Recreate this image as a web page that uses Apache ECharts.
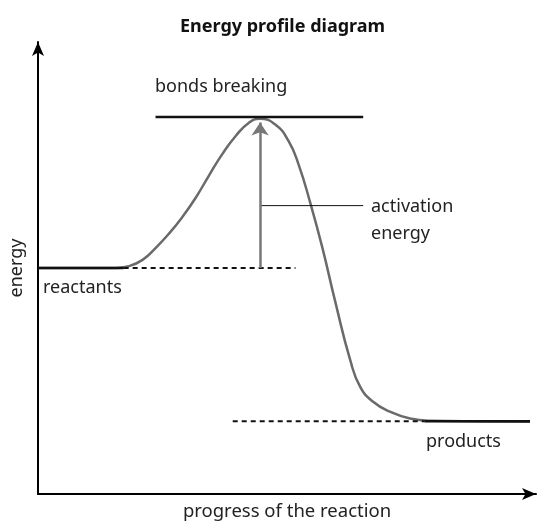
<!DOCTYPE html>
<html>
<head>
<meta charset="utf-8">
<script src="https://cdn.jsdelivr.net/npm/echarts@6/dist/echarts.min.js"></script>
<style>
  html, body { margin: 0; padding: 0; background: #fff; }
  #chart { width: 539px; height: 526px; }
</style>
</head>
<body>
<div id="chart"></div>
<script>
// progress (0-100) and energy (0-100), arbitrary units
const curveProgress = [0, 15.6, 18.2, 21.0, 23.6, 26.3, 29.0, 31.7, 34.3, 37.0, 39.7, 42.3, 44.5, 47.7, 50.3, 52.3, 54.7, 57.1, 59.7, 62.7, 64.7, 67.3, 70.7, 74.7, 78.8, 98.8];
const curveEnergy   = [50, 50, 50.4, 51.8, 54.4, 57.6, 61.3, 65.6, 70.4, 75.2, 79.2, 82.1, 83.0, 81.7, 78.1, 73.0, 64.3, 54.5, 42.5, 29.6, 23.7, 20.4, 18.2, 16.7, 16.2, 16.0];

const reactantEnergy = 50;
const productEnergy = 16.1;
const peakEnergy = 83.4;
const peakProgress = 44.6;

const reactantSolid = [0, 17.2];
const reactantDash = [17.2, 51.7];
const productDash = [39.1, 77.6];
const productSolid = [77.6, 98.8];
const bondsLine = [23.6, 65.3];
const activationPointer = { y: 63.8, from: 44.8, to: 65.3 };

const chart = echarts.init(document.getElementById('chart'));
const font = '"Noto Sans", sans-serif';

function seg(xs, y) {
    return [[xs[0], y], [xs[1], y]];
}

function flatLine(name, data, color, width, type) {
    return {
        name: name,
        type: 'line',
        data: data,
        symbol: 'none',
        silent: true,
        lineStyle: { color: color, width: width, type: type || 'solid' },
        z: 3
    };
}

const option = {
    animation: false,
    title: {
        text: 'Energy profile diagram',
        left: 175,
        top: 13,
        textStyle: { fontFamily: font, fontSize: 18, fontWeight: 'bold', color: '#111' }
    },
    grid: { left: 37, right: 3, top: 42, bottom: 28 },
    xAxis: {
        type: 'value', min: 0, max: 100,
        name: 'progress of the reaction',
        nameLocation: 'middle', nameGap: 8,
        nameTextStyle: { fontFamily: font, fontSize: 18.5, color: '#222' },
        axisLine: { show: true, lineStyle: { color: '#000', width: 2 }, symbol: ['none', 'arrow'], symbolSize: [9, 14] },
        axisTick: { show: false }, axisLabel: { show: false }, splitLine: { show: false }
    },
    yAxis: {
        type: 'value', min: 0, max: 100,
        name: 'energy',
        nameLocation: 'middle', nameGap: 12,
        nameTextStyle: { fontFamily: font, fontSize: 18, color: '#222' },
        axisLine: { show: true, lineStyle: { color: '#000', width: 2 }, symbol: ['none', 'arrow'], symbolSize: [9, 14] },
        axisTick: { show: false }, axisLabel: { show: false }, splitLine: { show: false }
    },
    series: [
        {
            name: 'profile',
            type: 'line',
            data: curveProgress.map((x, i) => [x, curveEnergy[i]]),
            smooth: 0.5,
            symbol: 'none',
            lineStyle: { color: '#6a6a6a', width: 2.5 },
            z: 2
        },
        flatLine('reactants', seg(reactantSolid, reactantEnergy), '#111', 2.5),
        flatLine('reactants level', seg(reactantDash, reactantEnergy), '#111', 2, [5, 4]),
        flatLine('products level', seg(productDash, productEnergy), '#111', 2, [5, 4]),
        flatLine('products', seg(productSolid, productEnergy), '#111', 2.5),
        flatLine('bonds breaking', seg(bondsLine, peakEnergy), '#111', 2.5),
        flatLine('pointer', seg([activationPointer.from, activationPointer.to], activationPointer.y), '#111', 1),
        {
            name: 'activation',
            type: 'lines',
            coordinateSystem: 'cartesian2d',
            silent: true,
            symbol: ['none', 'arrow'],
            symbolSize: 13,
            lineStyle: { color: '#777', width: 2.5, opacity: 1 },
            data: [{ coords: [[peakProgress, reactantEnergy], [peakProgress, peakEnergy - 1.2]] }],
            z: 4
        }
    ],
    graphic: [
        { type: 'text', left: 155, top: 78, style: { text: 'bonds breaking', font: '18px ' + font, fill: '#222' } },
        { type: 'text', left: 371, top: 193, style: { text: 'activation\nenergy', font: '18px ' + font, fill: '#222', lineHeight: 27 } },
        { type: 'text', left: 43, top: 279, style: { text: 'reactants', font: '18px ' + font, fill: '#222' } },
        { type: 'text', left: 426, top: 433, style: { text: 'products', font: '18px ' + font, fill: '#222' } }
    ]
};

chart.setOption(option);
</script>
</body>
</html>
